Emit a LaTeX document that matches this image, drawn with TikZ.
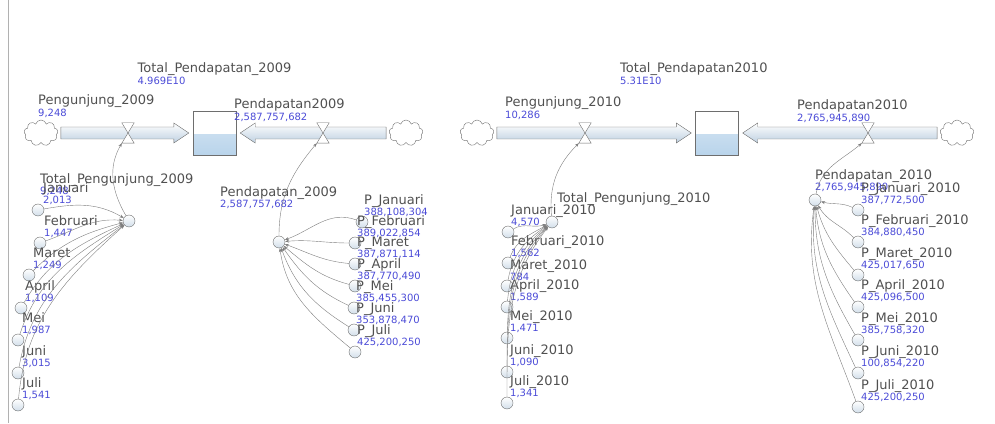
\documentclass[tikz,border=0pt]{standalone}
\usepackage{fontspec}
\setmainfont{DejaVu Sans}
\usetikzlibrary{positioning, shapes.symbols, arrows.meta, calc}

\definecolor{namegray}{RGB}{80,80,80}
\definecolor{valblue}{RGB}{75,75,215}
\definecolor{linegray}{RGB}{110,110,110}
\definecolor{linkgray}{RGB}{125,125,125}
\definecolor{pipefill}{RGB}{190,208,225}
\definecolor{stockfill}{RGB}{185,212,235}

\newcommand{\val}[1]{{\fontsize{10}{10}\selectfont\color{valblue}#1}}

% flow pipe from #1 to #2, open arrow at #2 (#3 = 1 rightwards, -1 leftwards)
\newcommand{\flowpipe}[3]{%
  \draw[pipe] let \p1=(#1), \p2=(#2) in
    ({\x1+#3*3pt},{\y1+6pt}) -- ({\x2-#3*19pt},{\y1+6pt}) -- ({\x2-#3*19pt},{\y1+10pt})
    -- ({\x2-#3*4pt},\y1) -- ({\x2-#3*19pt},{\y1-10pt}) -- ({\x2-#3*19pt},{\y1-6pt})
    -- ({\x1+#3*3pt},{\y1-6pt}) -- cycle;}
% hourglass on a valve node
\newcommand{\valvetie}[1]{%
  \filldraw[fill=white, draw=linegray] (#1.north west) -- (#1.north east)
    -- (#1.south west) -- (#1.south east) -- cycle;}

\tikzset{
  cloudy/.style={cloud, cloud puffs=9, aspect=1.35, draw=linegray, minimum width=34pt, minimum height=26pt, inner sep=0pt},
  stock/.style={rectangle, draw=linegray, minimum width=43pt, minimum height=44pt, inner sep=0pt,
    path picture={\shade[top color=stockfill!55, bottom color=stockfill]
      ($(path picture bounding box.west)+(0,-2)$) rectangle (path picture bounding box.south east);}},
  valve/.style={rectangle, minimum width=12pt, minimum height=20pt, inner sep=0pt},
  pipe/.style={draw=linegray, top color=white, bottom color=pipefill},
  aux/.style={circle, draw=linegray, minimum size=12pt, inner sep=0pt, top color=white, bottom color=pipefill!70},
  link/.style={draw=linkgray, -{Stealth[length=4pt, width=3pt]}},
  varlabel/.style={anchor=south west, inner sep=0pt, align=left, text=namegray, font=\fontsize{13}{11.5}\selectfont},
}

\begin{document}
\begin{tikzpicture}[x=1pt, y=1pt]
    \useasboundingbox (0,0) rectangle (995,423);
    \draw[linkgray!60] (8,0) -- (8,423);

    % 2009: stock and flows
    \node[cloudy] (c09a) at (41,290) {};
    \node[stock] (s09) at (214.5,290) {};
    \node[cloudy] (c09b) at (406,290) {};
    \flowpipe{c09a.east}{s09.west}{1}
    \flowpipe{c09b.west}{s09.east}{-1}
    \node[valve] (v09a) at (128,290) {};
    \node[valve] (v09b) at (323,290) {};
    \valvetie{v09a}
    \valvetie{v09b}
    \node[varlabel, above right=26pt and -77pt of s09.north] (s09l) {Total\_Pendapatan\_2009\\\val{4.969E10}};
    \node[varlabel, above right=5pt and -90pt of v09a.north] (v09al) {Pengunjung\_2009\\\val{9,248}};
    \node[varlabel, above right=1pt and -89pt of v09b.north] (v09bl) {Pendapatan2009\\\val{2,587,757,682}};

    % 2009: visitors
    \node[aux] (tp09) at (129,202) {};
    \node[varlabel, above right=25pt and -89pt of tp09.center] (tp09l) {Total\_Pengunjung\_2009\\\val{9,248}};
    \node[aux] (jan09) at (38,213) {};
    \node[aux] (feb09) at (40,180) {};
    \node[aux] (mar09) at (29,148) {};
    \node[aux] (apr09) at (21,115) {};
    \node[aux] (mei09) at (18,83) {};
    \node[aux] (jun09) at (18,50) {};
    \node[aux] (jul09) at (18,18) {};
    \node[varlabel, above right=5pt and 5pt of jan09.center] (jan09l) {Januari\\\val{2,013}};
    \node[varlabel, above right=5pt and 4pt of feb09.center] (feb09l) {Februari\\\val{1,447}};
    \node[varlabel, above right=5pt and 4pt of mar09.center] (mar09l) {Maret\\\val{1,249}};
    \node[varlabel, above right=5pt and 4pt of apr09.center] (apr09l) {April\\\val{1,109}};
    \node[varlabel, above right=5pt and 4pt of mei09.center] (mei09l) {Mei\\\val{1,987}};
    \node[varlabel, above right=5pt and 4pt of jun09.center] (jun09l) {Juni\\\val{3,015}};
    \node[varlabel, above right=5pt and 4pt of jul09.center] (jul09l) {Juli\\\val{1,541}};

    % 2009: income
    \node[aux] (pd09) at (279,181) {};
    \node[varlabel, above right=33pt and -59pt of pd09.center] (pd09l) {Pendapatan\_2009\\\val{2,587,757,682}};
    \node[aux] (pjan09) at (362,201) {};
    \node[aux] (pfeb09) at (355,180) {};
    \node[aux] (pmar09) at (355,159) {};
    \node[aux] (papr09) at (355,137) {};
    \node[aux] (pmei09) at (354,115) {};
    \node[aux] (pjun09) at (354,93) {};
    \node[aux] (pjul09) at (355,71) {};
    \node[varlabel, above right=5pt and 2pt of pjan09.center] (pjan09l) {P\_Januari\\\val{388,108,304}};
    \node[varlabel, above right=5pt and 2pt of pfeb09.center] (pfeb09l) {P\_Februari\\\val{389,022,854}};
    \node[varlabel, above right=5pt and 2pt of pmar09.center] (pmar09l) {P\_Maret\\\val{387,871,114}};
    \node[varlabel, above right=5pt and 2pt of papr09.center] (papr09l) {P\_April\\\val{387,770,490}};
    \node[varlabel, above right=5pt and 2pt of pmei09.center] (pmei09l) {P\_Mei\\\val{385,455,300}};
    \node[varlabel, above right=5pt and 2pt of pjun09.center] (pjun09l) {P\_Juni\\\val{353,878,470}};
    \node[varlabel, above right=5pt and 2pt of pjul09.center] (pjul09l) {P\_Juli\\\val{425,200,250}};

    % 2010: stock and flows
    \node[cloudy] (c10a) at (477,290) {};
    \node[stock] (s10) at (717,290) {};
    \node[cloudy] (c10b) at (957,290) {};
    \flowpipe{c10a.east}{s10.west}{1}
    \flowpipe{c10b.west}{s10.east}{-1}
    \node[valve] (v10a) at (585,290) {};
    \node[valve] (v10b) at (868,290) {};
    \valvetie{v10a}
    \valvetie{v10b}
    \node[varlabel, above right=26pt and -97pt of s10.north] (s10l) {Total\_Pendapatan2010\\\val{5.31E10}};
    \node[varlabel, above right=3pt and -80pt of v10a.north] (v10al) {Pengunjung\_2010\\\val{10,286}};
    \node[varlabel, above right=0pt and -71pt of v10b.north] (v10bl) {Pendapatan2010\\\val{2,765,945,890}};

    % 2010: visitors
    \node[aux] (tp10) at (552,201) {};
    \node[varlabel, above right=16pt and 5pt of tp10.center] (tp10l) {Total\_Pengunjung\_2010};
    \node[aux] (jan10) at (508,191) {};
    \node[aux] (feb10) at (508,160) {};
    \node[aux] (mar10) at (507,137) {};
    \node[aux] (apr10) at (507,116) {};
    \node[aux] (mei10) at (507,85) {};
    \node[aux] (jun10) at (507,51) {};
    \node[aux] (jul10) at (507,20) {};
    \node[varlabel, above right=5pt and 3pt of jan10.center] (jan10l) {Januari\_2010\\\val{4,570}};
    \node[varlabel, above right=5pt and 3pt of feb10.center] (feb10l) {Februari\_2010\\\val{1,562}};
    \node[varlabel, above right=5pt and 3pt of mar10.center] (mar10l) {Maret\_2010\\\val{784}};
    \node[varlabel, above right=5pt and 3pt of apr10.center] (apr10l) {April\_2010\\\val{1,589}};
    \node[varlabel, above right=5pt and 3pt of mei10.center] (mei10l) {Mei\_2010\\\val{1,471}};
    \node[varlabel, above right=5pt and 3pt of jun10.center] (jun10l) {Juni\_2010\\\val{1,090}};
    \node[varlabel, above right=5pt and 3pt of jul10.center] (jul10l) {Juli\_2010\\\val{1,341}};

    % 2010: income
    \node[aux] (pd10) at (815,223) {};
    \node[varlabel, above right=8pt and 0pt of pd10.center] (pd10l) {Pendapatan\_2010\\\val{2,765,945,890}};
    \node[aux] (pjan10) at (858,213) {};
    \node[aux] (pfeb10) at (858,181) {};
    \node[aux] (pmar10) at (858,148) {};
    \node[aux] (papr10) at (858,116) {};
    \node[aux] (pmei10) at (858,83) {};
    \node[aux] (pjun10) at (858,50) {};
    \node[aux] (pjul10) at (858,16) {};
    \node[varlabel, above right=5pt and 3pt of pjan10.center] (pjan10l) {P\_Januari\_2010\\\val{387,772,500}};
    \node[varlabel, above right=5pt and 3pt of pfeb10.center] (pfeb10l) {P\_Februari\_2010\\\val{384,880,450}};
    \node[varlabel, above right=5pt and 3pt of pmar10.center] (pmar10l) {P\_Maret\_2010\\\val{425,017,650}};
    \node[varlabel, above right=5pt and 3pt of papr10.center] (papr10l) {P\_April\_2010\\\val{425,096,500}};
    \node[varlabel, above right=5pt and 3pt of pmei10.center] (pmei10l) {P\_Mei\_2010\\\val{385,758,320}};
    \node[varlabel, above right=5pt and 3pt of pjun10.center] (pjun10l) {P\_Juni\_2010\\\val{100,854,220}};
    \node[varlabel, above right=5pt and 3pt of pjul10.center] (pjul10l) {P\_Juli\_2010\\\val{425,200,250}};

    % connectors
    \draw[link] (jan09) to[out=10,in=150] (tp09);
    \draw[link] (feb09) to[out=20,in=175] (tp09);
    \draw[link] (mar09) to[out=45,in=195] (tp09);
    \draw[link] (apr09) to[out=60,in=205] (tp09);
    \draw[link] (mei09) to[out=72,in=212] (tp09);
    \draw[link] (jun09) to[out=80,in=218] (tp09);
    \draw[link] (jul09) to[out=85,in=222] (tp09);
    \draw[link] (tp09) to[out=120,in=240] (v09a.south west);

    \draw[link] (pjan09) to[out=160,in=20] (pd09);
    \draw[link] (pfeb09) to[out=180,in=5] (pd09);
    \draw[link] (pmar09) to[out=175,in=340] (pd09);
    \draw[link] (papr09) to[out=165,in=320] (pd09);
    \draw[link] (pmei09) to[out=155,in=305] (pd09);
    \draw[link] (pjun09) to[out=148,in=290] (pd09);
    \draw[link] (pjul09) to[out=140,in=278] (pd09);
    \draw[link] (pd09) to[out=90,in=230] (v09b.south west);

    \draw[link] (jan10) to[out=30,in=200] (tp10);
    \draw[link] (feb10) to[out=70,in=210] (tp10);
    \draw[link] (mar10) to[out=80,in=215] (tp10);
    \draw[link] (apr10) to[out=85,in=220] (tp10);
    \draw[link] (mei10) to[out=88,in=224] (tp10);
    \draw[link] (jun10) to[out=90,in=228] (tp10);
    \draw[link] (jul10) to[out=90,in=232] (tp10);
    \draw[link] (tp10) to[out=95,in=225] (v10a.south west);

    \draw[link] (pjan10) to[out=155,in=345] (pd10);
    \draw[link] (pfeb10) to[out=135,in=300] (pd10);
    \draw[link] (pmar10) to[out=130,in=285] (pd10);
    \draw[link] (papr10) to[out=125,in=275] (pd10);
    \draw[link] (pmei10) to[out=120,in=270] (pd10);
    \draw[link] (pjun10) to[out=115,in=265] (pd10);
    \draw[link] (pjul10) to[out=110,in=262] (pd10);
    \draw[link] (pd10) to[out=80,in=220] (v10b.south west);
\end{tikzpicture}
\end{document}
